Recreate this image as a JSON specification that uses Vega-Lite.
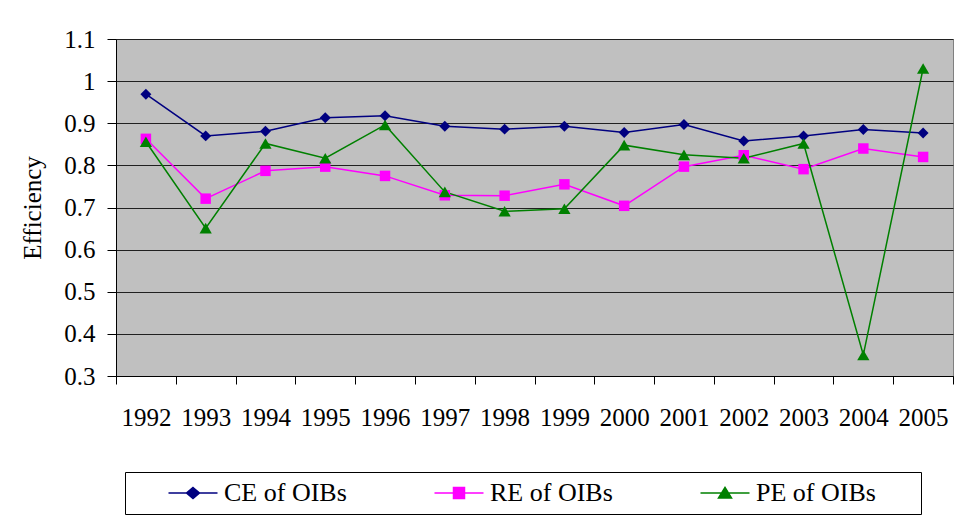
{
  "$schema": "https://vega.github.io/schema/vega-lite/v6.json",
  "width": 837,
  "height": 337,
  "autosize": {"type": "none"},
  "padding": {"left": 116, "top": 39, "right": 1, "bottom": 142},
  "background": "white",
  "config": {
    "view": {"fill": "#C0C0C0", "stroke": "#808080", "strokeWidth": 1},
    "font": "Liberation Serif, Times New Roman, Times, serif",
    "axis": {"labelFont": "Liberation Serif, Times New Roman, Times, serif", "titleFont": "Liberation Serif, Times New Roman, Times, serif"},
    "legend": {"labelFont": "Liberation Serif, Times New Roman, Times, serif"}
  },
  "data": {
    "values": [
      {"year": "1992", "series": "CE of OIBs", "value": 0.969},
      {"year": "1993", "series": "CE of OIBs", "value": 0.870},
      {"year": "1994", "series": "CE of OIBs", "value": 0.881},
      {"year": "1995", "series": "CE of OIBs", "value": 0.913},
      {"year": "1996", "series": "CE of OIBs", "value": 0.918},
      {"year": "1997", "series": "CE of OIBs", "value": 0.893},
      {"year": "1998", "series": "CE of OIBs", "value": 0.886},
      {"year": "1999", "series": "CE of OIBs", "value": 0.893},
      {"year": "2000", "series": "CE of OIBs", "value": 0.878},
      {"year": "2001", "series": "CE of OIBs", "value": 0.897},
      {"year": "2002", "series": "CE of OIBs", "value": 0.858},
      {"year": "2003", "series": "CE of OIBs", "value": 0.870},
      {"year": "2004", "series": "CE of OIBs", "value": 0.885},
      {"year": "2005", "series": "CE of OIBs", "value": 0.877},
      {"year": "1992", "series": "RE of OIBs", "value": 0.863},
      {"year": "1993", "series": "RE of OIBs", "value": 0.721},
      {"year": "1994", "series": "RE of OIBs", "value": 0.787},
      {"year": "1995", "series": "RE of OIBs", "value": 0.797},
      {"year": "1996", "series": "RE of OIBs", "value": 0.775},
      {"year": "1997", "series": "RE of OIBs", "value": 0.729},
      {"year": "1998", "series": "RE of OIBs", "value": 0.728},
      {"year": "1999", "series": "RE of OIBs", "value": 0.755},
      {"year": "2000", "series": "RE of OIBs", "value": 0.704},
      {"year": "2001", "series": "RE of OIBs", "value": 0.797},
      {"year": "2002", "series": "RE of OIBs", "value": 0.824},
      {"year": "2003", "series": "RE of OIBs", "value": 0.791},
      {"year": "2004", "series": "RE of OIBs", "value": 0.840},
      {"year": "2005", "series": "RE of OIBs", "value": 0.820},
      {"year": "1992", "series": "PE of OIBs", "value": 0.856},
      {"year": "1993", "series": "PE of OIBs", "value": 0.651},
      {"year": "1994", "series": "PE of OIBs", "value": 0.852},
      {"year": "1995", "series": "PE of OIBs", "value": 0.817},
      {"year": "1996", "series": "PE of OIBs", "value": 0.896},
      {"year": "1997", "series": "PE of OIBs", "value": 0.737},
      {"year": "1998", "series": "PE of OIBs", "value": 0.691},
      {"year": "1999", "series": "PE of OIBs", "value": 0.697},
      {"year": "2000", "series": "PE of OIBs", "value": 0.848},
      {"year": "2001", "series": "PE of OIBs", "value": 0.825},
      {"year": "2002", "series": "PE of OIBs", "value": 0.817},
      {"year": "2003", "series": "PE of OIBs", "value": 0.852},
      {"year": "2004", "series": "PE of OIBs", "value": 0.350},
      {"year": "2005", "series": "PE of OIBs", "value": 1.030}
    ]
  },
  "encoding": {
    "x": {
      "field": "year",
      "type": "ordinal",
      "scale": {"type": "band", "paddingInner": 0, "paddingOuter": 0},
      "axis": {
        "title": null,
        "labelAngle": 0,
        "labelFontSize": 25,
        "labelColor": "black",
        "labelPadding": 21,
        "tickBand": "extent",
        "tickSize": 8,
        "tickColor": "black",
        "domainColor": "black",
        "grid": false
      }
    },
    "y": {
      "field": "value",
      "type": "quantitative",
      "scale": {"domain": [0.3, 1.1], "nice": false, "zero": false},
      "axis": {
        "values": [0.3, 0.4, 0.5, 0.6, 0.7, 0.8, 0.9, 1.0, 1.1],
        "format": ".1~f",
        "title": "Efficiency",
        "titleFontSize": 25,
        "titleFontWeight": "normal",
        "titleColor": "black",
        "titlePadding": 18,
        "labelFontSize": 25,
        "labelColor": "black",
        "labelPadding": 12,
        "tickSize": 9,
        "tickColor": "black",
        "domainColor": "black",
        "grid": true,
        "gridColor": "#202020",
        "gridWidth": 1,
        "gridOpacity": 1
      }
    },
    "color": {
      "field": "series",
      "type": "nominal",
      "sort": ["CE of OIBs", "RE of OIBs", "PE of OIBs"],
      "scale": {
        "domain": ["CE of OIBs", "RE of OIBs", "PE of OIBs"],
        "range": ["#000080", "#FF00FF", "#008000"]
      },
      "legend": {
        "title": null,
        "orient": "none",
        "legendX": 9,
        "legendY": 433,
        "direction": "horizontal",
        "columns": 3,
        "gridAlign": "each",
        "columnPadding": 52,
        "padding": 8,
        "strokeColor": "black",
        "fillColor": "white",
        "symbolSize": 100,
        "symbolStrokeWidth": 1.5,
        "symbolOffset": 47,
        "labelOffset": 18,
        "labelFont": "Liberation Serif, Times New Roman, Times, serif",
        "labelFontSize": 26,
        "labelColor": "black",
        "labelLimit": 300,
        "encode": {
          "symbols": {
            "update": {
              "shape": {"signal": "datum.value === 'CE of OIBs' ? 'M-4.9,0H4.9M0,-1.1L1.3,0L0,1.1L-1.3,0Z' : datum.value === 'RE of OIBs' ? 'M-4.9,0H4.9M-1.1,-1.1H1.1V1.1H-1.1Z' : 'M-4.9,0H4.9M0,-1.1L1.3,1L-1.3,1ZM36.9,0'"},
              "fill": {"signal": "scale('color', datum.value)"},
              "stroke": {"signal": "scale('color', datum.value)"},
              "opacity": {"value": 1}
            }
          }
        }
      }
    }
  },
  "layer": [
    {"mark": {"type": "line", "strokeWidth": 1.5}},
    {
      "transform": [{"filter": "datum.series === 'CE of OIBs'"}],
      "mark": {"type": "point", "shape": "diamond", "filled": true, "size": 120, "opacity": 1}
    },
    {
      "transform": [{"filter": "datum.series === 'RE of OIBs'"}],
      "mark": {"type": "point", "shape": "square", "filled": true, "size": 110, "opacity": 1}
    },
    {
      "transform": [{"filter": "datum.series === 'PE of OIBs'"}],
      "mark": {"type": "point", "shape": "triangle-up", "filled": true, "size": 150, "opacity": 1}
    }
  ]
}
